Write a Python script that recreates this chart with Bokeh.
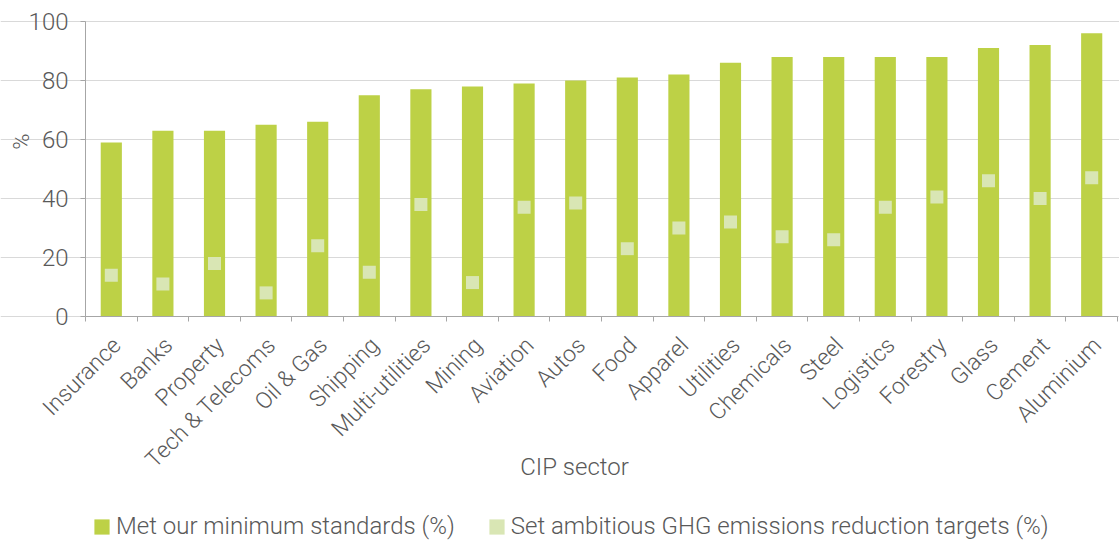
import math
from bokeh.plotting import figure
from bokeh.models import (ColumnDataSource, Range1d, FixedTicker, Legend,
                          LegendItem, Label)
from bokeh.embed import file_html
from bokeh.resources import INLINE

# ---- data ----
sectors = ["Insurance", "Banks", "Property", "Tech & Telecoms", "Oil & Gas",
           "Shipping", "Multi-utilities", "Mining", "Aviation", "Autos",
           "Food", "Apparel", "Utilities", "Chemicals", "Steel", "Logistics",
           "Forestry", "Glass", "Cement", "Aluminium"]
met_standards = [59, 63, 63, 65, 66, 75, 77, 78, 79, 80,
                 81, 82, 86, 88, 88, 88, 88, 91, 92, 96]
ghg_targets = [14, 11, 18, 8, 24, 15, 38, 11.5, 37, 38.5,
               23, 30, 32, 27, 26, 37, 40.5, 46, 40, 47]
y_ticks = [0, 20, 40, 60, 80, 100]
series_names = ["Met our minimum standards (%)",
                "Set ambitious GHG emissions reduction targets (%)"]
x_title = "CIP sector"
y_title = "%"

# ---- style / layout (pixels) ----
FONT = "Roboto Light"
TXT = "#595959"
AXIS = "#A6A6A6"
GRID = "#D9D9D9"
BAR = "#BDD146"
SQ = "#D9E6B4"
W, H = 1119, 541
PLOT_L, PLOT_R, PLOT_T, PLOT_B = 85, 1117, 21, 316
LABEL_SHIFT = -0.11   # where the rotated labels are anchored

n = len(sectors)
Y_MAX = y_ticks[-1]
kx = (PLOT_R - PLOT_L) / n
ky = (PLOT_B - PLOT_T) / Y_MAX


def px_x(px):
    return (px - PLOT_L) / kx


def px_y(py):
    return (PLOT_B - py) / ky


centers = [i + 0.5 for i in range(n)]
label_pos = [c - LABEL_SHIFT for c in centers]
src = ColumnDataSource(dict(x=centers, met=met_standards, ghg=ghg_targets,
                            sector=sectors))

# the frame covers the whole canvas; axes are pinned at 0 with bounds
p = figure(width=W, height=H, output_backend="svg", toolbar_location=None,
           x_range=Range1d(px_x(0), px_x(W)),
           y_range=Range1d(px_y(H), px_y(0)),
           min_border_left=0, min_border_right=0, min_border_top=0,
           min_border_bottom=0)
p.outline_line_color = None
p.background_fill_color = "white"
p.border_fill_color = "white"

bars = p.vbar(x="x", top="met", bottom=0, width=0.41, source=src,
              fill_color=BAR, line_color=None)
squares = p.rect(x="x", y="ghg", width=13, height=13, width_units="screen",
                 height_units="screen", source=src, fill_color=SQ,
                 line_color=None)

# x axis: labels at category centres, ticks at category boundaries
xa = p.xaxis[0]
xa.fixed_location = 0
xa.bounds = (0, n)
xa.ticker = FixedTicker(ticks=label_pos, minor_ticks=list(range(n + 1)))
xa.major_label_overrides = {c: s for c, s in zip(label_pos, sectors)}
xa.major_label_orientation = math.pi / 4
xa.major_tick_in = 0
xa.major_tick_out = 0
xa.major_tick_line_color = None
xa.minor_tick_in = 0
xa.minor_tick_out = 5
xa.minor_tick_line_color = AXIS
xa.axis_line_color = AXIS
xa.major_label_text_font = FONT
xa.major_label_text_font_size = "23px"
xa.major_label_text_color = TXT
xa.major_label_standoff = 20

ya = p.yaxis[0]
ya.fixed_location = 0
ya.bounds = (0, Y_MAX)
ya.ticker = FixedTicker(ticks=y_ticks)
ya.major_tick_in = 0
ya.major_tick_out = 5
ya.major_tick_line_color = AXIS
ya.minor_tick_line_color = None
ya.axis_line_color = AXIS
ya.major_label_text_font = FONT
ya.major_label_text_font_size = "24px"
ya.major_label_text_color = TXT
ya.major_label_standoff = 12

p.xgrid.visible = False
p.ygrid.grid_line_color = GRID
p.ygrid.grid_line_width = 1
p.ygrid.bounds = (0, n)

p.add_layout(Label(x=px_x(21), y=px_y(141), text=y_title, angle=math.pi / 2,
                   text_align="center", text_baseline="middle",
                   text_font=FONT, text_font_size="22px", text_color=TXT))
p.add_layout(Label(x=px_x(574), y=px_y(466), text=x_title,
                   text_align="center", text_baseline="middle",
                   text_font=FONT, text_font_size="24px", text_color=TXT))

legend = Legend(items=[LegendItem(label=series_names[0], renderers=[bars]),
                       LegendItem(label=series_names[1], renderers=[squares])],
                location=(92, 1), orientation="horizontal",
                glyph_width=19, glyph_height=19, label_standoff=5,
                spacing=32, padding=0, margin=0,
                label_text_font=FONT, label_text_font_size="24px",
                label_text_color=TXT, border_line_color=None,
                background_fill_alpha=0)
p.add_layout(legend)

open("out.html", "w").write(file_html(p, INLINE))
